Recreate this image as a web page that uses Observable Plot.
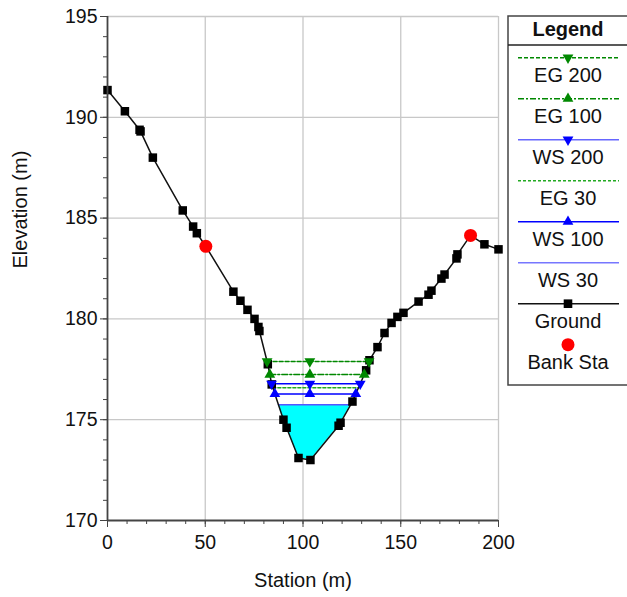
<!DOCTYPE html>
<html>
<head>
<meta charset="utf-8">
<script src="https://cdn.jsdelivr.net/npm/d3@7"></script>
<script src="https://cdn.jsdelivr.net/npm/@observablehq/plot@0.6"></script>
<style>
  html, body { margin: 0; padding: 0; background: #fff; }
  #wrap { position: relative; width: 627px; height: 597px; overflow: hidden; font-family: "Liberation Sans", Arial, sans-serif; }
  #chart { position: absolute; left: 0; top: 0; }
  #legend { position: absolute; left: 0; top: 0; }
</style>
</head>
<body>
<div id="wrap"><div id="chart"></div><svg id="legend" width="627" height="597"></svg></div>
<script>
// Ground profile
const groundStations = [0, 8.9, 16.4, 16.9, 23.2, 38.5, 43.8, 45.7, 50.3, 64.4, 68, 71.6, 75.2, 77.2, 77.7, 82.0, 84.0, 90.0, 91.6, 97.7, 103.8, 118.2, 119.2, 125.3, 132.3, 134.0, 138.1, 141.7, 145.3, 148.3, 151.4, 159.1, 164.2, 165.7, 170.8, 172.4, 178.5, 179.0, 185.7, 192.8, 200];
const groundElevations = [191.35, 190.3, 189.38, 189.3, 188.0, 185.38, 184.58, 184.25, 183.6, 181.35, 180.9, 180.45, 180.0, 179.6, 179.4, 177.75, 176.75, 175.0, 174.6, 173.1, 173.0, 174.7, 174.85, 175.9, 177.45, 177.95, 178.6, 179.3, 179.8, 180.1, 180.3, 180.86, 181.2, 181.4, 182.0, 182.2, 183.0, 183.2, 184.14, 183.7, 183.45];
// Bank stations
const bankStations = [50.3, 185.7];
const bankElevations = [183.6, 184.14];
// Profiles (water surface / energy grade)
const profileNames = ["EG 200", "EG 100", "WS 200", "EG 30", "WS 100", "WS 30"];
const profileElevations = [177.89, 177.24, 176.78, 176.58, 176.28, 175.74];
const profileColors = ["#008800", "#008800", "#0000ff", "#22aa22", "#0000ff", "#5555ff"];
const profileDash = ["4,2", "6,2,2,2", null, "3,2", null, null];
const profileMarker = ["down", "up", "down", null, "up", null];
const markerMidStation = 103.5;
// Axis ticks
const xMajorTicks = [0, 50, 100, 150, 200];
const yMajorTicks = [170, 175, 180, 185, 190, 195];

const ground = groundStations.map((s, i) => ({s, e: groundElevations[i]}));
const banks = bankStations.map((s, i) => ({s, e: bankElevations[i]}));

// intersection of a horizontal level with the ground, walking out from the thalweg
function extent(level) {
  let iMin = d3.minIndex(ground, d => d.e);
  let i = iMin; while (i > 0 && ground[i - 1].e < level) i--;
  const a = ground[i - 1], b = ground[i];
  const left = a.s + (level - a.e) / (b.e - a.e) * (b.s - a.s);
  let j = iMin; while (j < ground.length - 1 && ground[j + 1].e < level) j++;
  const c = ground[j], d = ground[j + 1];
  const right = c.s + (level - c.e) / (d.e - c.e) * (d.s - c.s);
  return {left, right, i, j};
}

const profiles = profileNames.map((name, k) => {
  const L = profileElevations[k];
  const ex = extent(L);
  return {name, L, ...ex, color: profileColors[k], dash: profileDash[k], marker: profileMarker[k]};
});

// fill polygon under WS 30
const ws30 = profiles[5];
const fillPts = [{s: ws30.left, g: ws30.L}]
  .concat(ground.slice(ws30.i, ws30.j + 1).map(d => ({s: d.s, g: d.e})))
  .concat([{s: ws30.right, g: ws30.L}]);

const lineMarks = [];
for (const p of profiles.slice().reverse()) {
  const seg = [{s: p.left, e: p.L}, {s: p.right, e: p.L}];
  lineMarks.push(Plot.line(seg, {x: "s", y: "e", stroke: p.color, strokeWidth: 1.5, strokeDasharray: p.dash || undefined}));
}
const markerMarks = [];
for (const p of profiles) {
  if (!p.marker) continue;
  const pts = [p.left, markerMidStation, p.right].map(s => ({s, e: p.L}));
  markerMarks.push(Plot.dot(pts, {x: "s", y: "e", symbol: "triangle", r: 4, fill: p.color, stroke: "none", rotate: p.marker === "down" ? 180 : 0}));
}

const chart = Plot.plot({
  width: 627, height: 597,
  marginLeft: 107, marginRight: 129, marginTop: 16, marginBottom: 77,
  style: {fontFamily: "Liberation Sans, Arial, sans-serif", fontSize: "19.5px", color: "#111", background: "transparent", overflow: "visible"},
  x: {domain: [0, 200]},
  y: {domain: [170, 195]},
  marks: [
    Plot.gridX(xMajorTicks.slice(1), {stroke: "#c8c8c8", strokeOpacity: 1, strokeWidth: 1.3}),
    Plot.gridY(yMajorTicks.slice(1), {stroke: "#c8c8c8", strokeOpacity: 1, strokeWidth: 1.3}),
    Plot.areaY(fillPts, {x: "s", y1: "g", y2: () => ws30.L, fill: "#00ffff", fillOpacity: 1}),
    ...lineMarks,
    Plot.line(ground, {x: "s", y: "e", stroke: "#111", strokeWidth: 1.5}),
    Plot.dot(ground, {x: "s", y: "e", symbol: "square", r: 4.8, fill: "#000", stroke: "none"}),
    ...markerMarks,
    Plot.dot(banks, {x: "s", y: "e", r: 6.5, fill: "#ff0000", stroke: "none"}),
    Plot.axisY(d3.range(170, 196, 1), {tickSize: 4, tickFormat: () => "", stroke: "#444", label: null}),
    Plot.axisY(yMajorTicks, {tickSize: 7, tickPadding: 3, stroke: "#444", label: null, fill: "#111"}),
    Plot.axisX(d3.range(0, 201, 10), {tickSize: 4, tickFormat: () => "", stroke: "#444", label: null}),
    Plot.axisX(xMajorTicks, {tickSize: 7, tickPadding: 8, stroke: "#444", label: null, fill: "#111"}),
    Plot.ruleX([0], {stroke: "#444", strokeWidth: 1.8}),
    Plot.ruleY([170], {stroke: "#444", strokeWidth: 1.8}),
    Plot.text(["Station (m)"], {frameAnchor: "bottom", dy: 66, fontSize: 20, fill: "#111"}),
    Plot.text(["Elevation (m)"], {frameAnchor: "left", dx: -87, rotate: -90, fontSize: 20, fill: "#111"})
  ]
});
document.getElementById("chart").appendChild(chart);

// Legend
const legendItems = [
  {label: "EG 200", color: profileColors[0], dash: profileDash[0], marker: "down"},
  {label: "EG 100", color: profileColors[1], dash: profileDash[1], marker: "up"},
  {label: "WS 200", color: "#6666ff", dash: null, marker: "down", markerColor: "#0000ff"},
  {label: "EG 30", color: profileColors[3], dash: profileDash[3], marker: null},
  {label: "WS 100", color: profileColors[4], dash: null, marker: "up"},
  {label: "WS 30", color: "#7777ff", dash: null, marker: null},
  {label: "Ground", color: "#111", dash: null, marker: "square"},
  {label: "Bank Sta", color: null, dash: null, marker: "circle"}
];
const lg = d3.select("#legend");
lg.append("rect").attr("x", 508).attr("y", 16).attr("width", 140).attr("height", 369)
  .attr("fill", "#fff").attr("stroke", "#444").attr("stroke-width", 1.5);
lg.append("text").attr("x", 568).attr("y", 29).attr("text-anchor", "middle").attr("dominant-baseline", "central")
  .attr("font-family", "Liberation Sans, Arial, sans-serif").attr("font-weight", "bold").attr("font-size", 20).attr("fill", "#111").text("Legend");
lg.append("line").attr("x1", 508).attr("x2", 627).attr("y1", 45).attr("y2", 45).attr("stroke", "#222").attr("stroke-width", 1.5);
legendItems.forEach((it, k) => {
  const ly = 57.7 + k * 41.0;
  const ty = ly + 17.5;
  const cx = 568;
  if (it.color) {
    lg.append("line").attr("x1", 518).attr("x2", 619).attr("y1", ly).attr("y2", ly)
      .attr("stroke", it.color).attr("stroke-width", 1.5).attr("stroke-dasharray", it.dash);
  }
  if (it.marker === "down" || it.marker === "up") {
    const sym = d3.symbol(d3.symbolTriangle, Math.PI * 4 * 4)();
    lg.append("path").attr("d", sym).attr("fill", it.markerColor || it.color)
      .attr("transform", `translate(${cx},${ly}) rotate(${it.marker === "down" ? 180 : 0})`);
  } else if (it.marker === "square") {
    lg.append("rect").attr("x", cx - 4.3).attr("y", ly - 4.3).attr("width", 8.6).attr("height", 8.6).attr("fill", "#000");
  } else if (it.marker === "circle") {
    lg.append("circle").attr("cx", cx).attr("cy", ly).attr("r", 6.5).attr("fill", "#ff0000");
  }
  lg.append("text").attr("x", cx).attr("y", it.marker === "circle" ? ty - 0.5 : ty).attr("text-anchor", "middle").attr("dominant-baseline", "central")
    .attr("font-family", "Liberation Sans, Arial, sans-serif").attr("font-size", 20).attr("fill", "#111").text(it.label);
});
</script>
</body>
</html>
